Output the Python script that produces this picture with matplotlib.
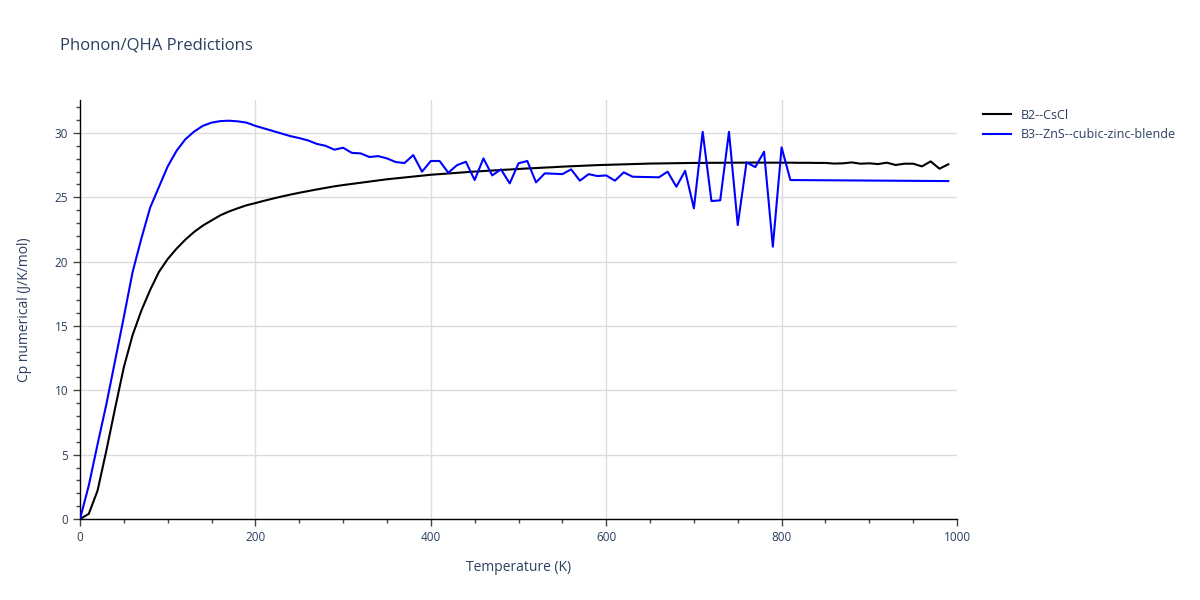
import numpy as np
import matplotlib
matplotlib.use("Agg")
import matplotlib.pyplot as plt
from matplotlib.ticker import MultipleLocator

plt.rcParams['font.family'] = ['Open Sans', 'DejaVu Sans']

# B2--CsCl, every 10 K from 0 to 990
b2_temp = list(range(0, 1000, 10))
b2_cp = [
    0.0, 0.4, 2.2, 5.3, 8.6, 11.8, 14.3, 16.2, 17.8, 19.2,
    20.2, 21.0, 21.7, 22.3, 22.8, 23.2, 23.6, 23.9, 24.15, 24.38,
    24.55, 24.73, 24.9, 25.06, 25.21, 25.35, 25.48, 25.61, 25.73, 25.85,
    25.95, 26.04, 26.13, 26.22, 26.31, 26.4, 26.47, 26.54, 26.61, 26.68,
    26.75, 26.8, 26.85, 26.9, 26.95, 27.0, 27.04, 27.08, 27.12, 27.16,
    27.2, 27.24, 27.27, 27.31, 27.34, 27.38, 27.41, 27.44, 27.47, 27.5,
    27.52, 27.54, 27.56, 27.58, 27.6, 27.62, 27.63, 27.64, 27.65, 27.66,
    27.67, 27.67, 27.68, 27.68, 27.69, 27.69, 27.69, 27.7, 27.69, 27.69,
    27.69, 27.69, 27.68, 27.68, 27.67, 27.67, 27.62, 27.64, 27.71, 27.61,
    27.64, 27.58, 27.69, 27.51, 27.61, 27.61, 27.40, 27.79, 27.22, 27.56,
]

# B3--ZnS--cubic-zinc-blende
b3_temp = list(range(0, 820, 10)) + [990]
b3_cp = [
    0.0, 2.6, 5.8, 8.9, 12.3, 15.7, 19.2, 21.8, 24.2, 25.8,
    27.4, 28.6, 29.5, 30.1, 30.55, 30.8, 30.92, 30.95, 30.9, 30.8,
    30.55, 30.35, 30.15, 29.95, 29.75, 29.6, 29.42, 29.15, 29.0, 28.7,
    28.85, 28.45, 28.41, 28.13, 28.2, 28.02, 27.74, 27.66, 28.28, 26.99,
    27.82, 27.82, 26.91, 27.5, 27.76, 26.34, 28.02, 26.7, 27.17, 26.08,
    27.64, 27.82, 26.16, 26.86, 26.83, 26.8, 27.17, 26.29, 26.8, 26.65,
    26.7, 26.29, 26.94, 26.6, 26.58, 26.57, 26.55, 26.99, 25.82, 27.06,
    24.14, 30.09, 24.71, 24.76, 30.09, 22.84, 27.71, 27.35, 28.54, 21.16,
    28.88, 26.34, 26.26,
]

text_color = '#2a3f5f'
grid_color = '#dcdcdc'

fig = plt.figure(figsize=(12, 6), dpi=100)
ax = fig.add_axes([80 / 1200, 1 - 519 / 600, (957 - 80) / 1200, (519 - 100) / 600])

ax.plot(b2_temp, b2_cp, color='black', lw=1.5, label='B2--CsCl', zorder=3)
ax.plot(b3_temp, b3_cp, color='blue', lw=1.5, label='B3--ZnS--cubic-zinc-blende', zorder=3)

ax.set_xlim(0, 1000)
ax.set_ylim(0, 32.56)
ax.xaxis.set_major_locator(MultipleLocator(200))
ax.xaxis.set_minor_locator(MultipleLocator(50))
ax.yaxis.set_major_locator(MultipleLocator(5))
ax.yaxis.set_minor_locator(MultipleLocator(1))
ax.grid(True, axis='y', which='major', color=grid_color, lw=1)
for xg in [200, 400, 600, 800]:
    ax.axvline(xg, color=grid_color, lw=1, zorder=0)
ax.set_axisbelow(True)

for s in ['top', 'right']:
    ax.spines[s].set_visible(False)
for s in ['left', 'bottom']:
    ax.spines[s].set_color('black')
    ax.spines[s].set_linewidth(1)

ax.tick_params(which='major', length=5, width=1, color='#444444', labelsize=8.5, labelcolor=text_color)
ax.tick_params(which='minor', length=3, width=1, color='#444444')

ax.set_xlabel('Temperature (K)', fontsize=10, color=text_color, labelpad=12)
ax.set_ylabel('Cp numerical (J/K/mol)', fontsize=10, color=text_color, labelpad=16)

fig.text(60 / 1200, 1 - 45 / 600, 'Phonon/QHA Predictions', fontsize=12, color=text_color, va='center')

ax.legend(loc='upper left', bbox_to_anchor=(1.02, 1.0), frameon=False, fontsize=9,
          labelcolor=text_color, handlelength=2.2, borderaxespad=0.3)

fig.savefig('out.png', dpi=100)
